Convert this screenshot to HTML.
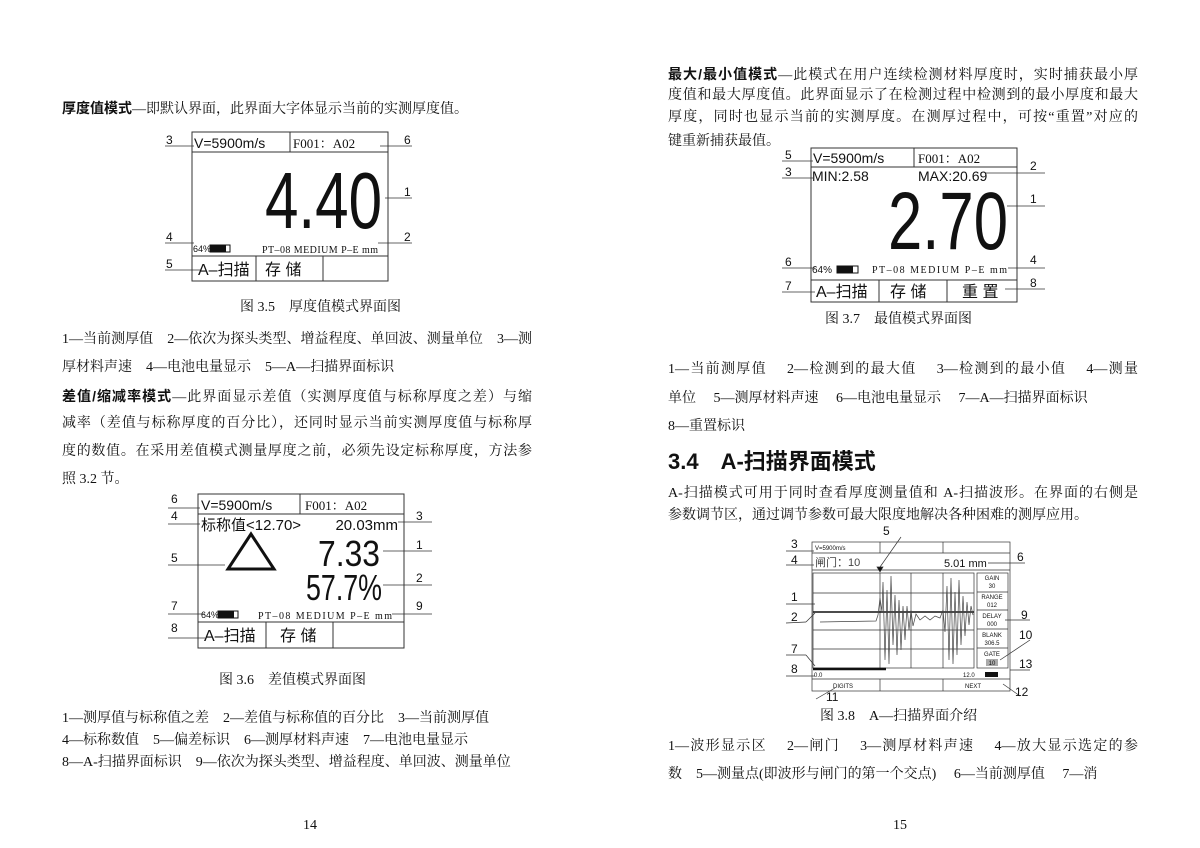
<!DOCTYPE html>
<html><head><meta charset="utf-8"><style>
body{margin:0;background:#fff;}
#p{position:relative;width:1200px;height:848px;overflow:hidden;background:#fff;font-family:"Liberation Serif","Noto Serif CJK SC",serif;font-size:14px;color:#111;}
.l{position:absolute;white-space:nowrap;line-height:16px;margin-top:2px;}
.j{width:470px;text-align:justify;text-align-last:justify;}
.r{left:668px}.lf{left:62px}
b{font-family:"Liberation Sans","Noto Sans CJK SC",sans-serif;font-weight:bold;}
svg{position:absolute;left:0;top:0}
</style></head><body><div id="p">
<div class="l lf" style="top:98px"><b>厚度值模式</b>—即默认界面，此界面大字体显示当前的实测厚度值。</div>
<div class="l" style="top:298px;left:240px">图 3.5　厚度值模式界面图</div>
<div class="l lf j" style="top:330px">1—当前测厚值　2—依次为探头类型、增益程度、单回波、测量单位　3—测</div>
<div class="l lf" style="top:358px">厚材料声速　4—电池电量显示　5—A—扫描界面标识</div>
<div class="l lf j" style="top:386px"><b>差值/缩减率模式</b>—此界面显示差值（实测厚度值与标称厚度之差）与缩</div>
<div class="l lf j" style="top:414px">减率（差值与标称厚度的百分比），还同时显示当前实测厚度值与标称厚</div>
<div class="l lf j" style="top:442px">度的数值。在采用差值模式测量厚度之前，必须先设定标称厚度，方法参</div>
<div class="l lf" style="top:470px">照 3.2 节。</div>
<div class="l" style="top:671px;left:219px">图 3.6　差值模式界面图</div>
<div class="l lf" style="top:709px">1—测厚值与标称值之差　2—差值与标称值的百分比　3—当前测厚值</div>
<div class="l lf" style="top:731px">4—标称数值　5—偏差标识　6—测厚材料声速　7—电池电量显示</div>
<div class="l lf" style="top:753px">8—A-扫描界面标识　9—依次为探头类型、增益程度、单回波、测量单位</div>
<div class="l" style="top:816px;left:303px">14</div>
<div class="l" style="top:816px;left:893px">15</div>

<div class="l r j" style="top:64px"><b>最大/最小值模式</b>—此模式在用户连续检测材料厚度时，实时捕获最小厚</div>
<div class="l r j" style="top:86px">度值和最大厚度值。此界面显示了在检测过程中检测到的最小厚度和最大</div>
<div class="l r j" style="top:108px">厚度，同时也显示当前的实测厚度。在测厚过程中，可按“重置”对应的</div>
<div class="l r" style="top:132px">键重新捕获最值。</div>
<div class="l" style="top:310px;left:825px">图 3.7　最值模式界面图</div>
<div class="l r j" style="top:360px">1—当前测厚值　 2—检测到的最大值　 3—检测到的最小值　 4—测量</div>
<div class="l r" style="top:389px">单位　 5—测厚材料声速　 6—电池电量显示　 7—A—扫描界面标识</div>
<div class="l r" style="top:417px">8—重置标识</div>
<div class="l r" style="top:447px;font-size:22px;line-height:26px"><b>3.4　A-扫描界面模式</b></div>
<div class="l r j" style="top:484px">A-扫描模式可用于同时查看厚度测量值和 A-扫描波形。在界面的右侧是</div>
<div class="l r" style="top:506px">参数调节区，通过调节参数可最大限度地解决各种困难的测厚应用。</div>
<div class="l" style="top:707px;left:820px">图 3.8　A—扫描界面介绍</div>
<div class="l r j" style="top:737px">1—波形显示区　 2—闸门　 3—测厚材料声速　 4—放大显示选定的参</div>
<div class="l r" style="top:765px">数　5—测量点(即波形与闸门的第一个交点)　 6—当前测厚值　 7—消</div>

<svg width="1200" height="848" viewBox="0 0 1200 848" font-family="Liberation Sans, Noto Sans CJK SC, sans-serif" fill="none" stroke="#333" stroke-width="1">
<g>
<rect x="192" y="132" width="196" height="149"/>
<line x1="192" y1="152" x2="388" y2="152"/><line x1="290" y1="132" x2="290" y2="152"/>
<line x1="192" y1="256" x2="388" y2="256"/><line x1="256" y1="256" x2="256" y2="281"/><line x1="323" y1="256" x2="323" y2="281"/>
<g stroke-width="0.8">
<line x1="165" y1="146" x2="194" y2="146"/><line x1="380" y1="146" x2="412" y2="146"/>
<line x1="385" y1="198" x2="412" y2="198"/><line x1="165" y1="243" x2="194" y2="243"/>
<line x1="378" y1="243" x2="412" y2="243"/><line x1="165" y1="270" x2="200" y2="270"/>
</g>
<g fill="#111" stroke="none" font-size="12">
<text x="166" y="144">3</text><text x="404" y="144">6</text><text x="404" y="196">1</text>
<text x="166" y="241">4</text><text x="404" y="241">2</text><text x="166" y="268">5</text>
<text x="194" y="148" font-size="14">V=5900m/s</text>
<text x="293" y="148" font-size="13" font-family="Liberation Serif, Noto Serif CJK SC, serif">F001：A02</text>
<text x="382" y="228" font-size="80" text-anchor="end" textLength="117" lengthAdjust="spacingAndGlyphs">4.40</text>
<text x="193" y="252" font-size="9">64%</text>
<rect x="210" y="245" width="16" height="7" fill="#111"/><rect x="210" y="245" width="20" height="7" fill="none" stroke="#111"/>
<text x="262" y="253" font-size="10" font-family="Liberation Serif, serif" textLength="116">PT–08  MEDIUM  P–E  mm</text>
<text x="198" y="275" font-size="16">A–扫描</text><text x="265" y="275" font-size="16">存 储</text>
</g></g>
<g>
<rect x="198" y="494" width="206" height="154"/>
<line x1="198" y1="514" x2="404" y2="514"/><line x1="300" y1="494" x2="300" y2="514"/>
<line x1="198" y1="622" x2="404" y2="622"/><line x1="266" y1="622" x2="266" y2="648"/><line x1="333" y1="622" x2="333" y2="648"/>
<g stroke-width="0.8">
<line x1="168" y1="508" x2="200" y2="508"/><line x1="168" y1="524" x2="200" y2="524"/>
<line x1="168" y1="565" x2="225" y2="565"/><line x1="168" y1="614" x2="205" y2="614"/>
<line x1="168" y1="638" x2="205" y2="638"/><line x1="398" y1="522" x2="432" y2="522"/>
<line x1="383" y1="551" x2="432" y2="551"/><line x1="383" y1="585" x2="432" y2="585"/>
<line x1="392" y1="614" x2="432" y2="614"/>
</g>
<polygon points="251,534 228,569 274,569" stroke="#111" stroke-width="3"/>
<g fill="#111" stroke="none" font-size="12">
<text x="171" y="503">6</text><text x="171" y="520">4</text><text x="171" y="562">5</text>
<text x="171" y="610">7</text><text x="171" y="632">8</text>
<text x="416" y="520">3</text><text x="416" y="549">1</text><text x="416" y="582">2</text><text x="416" y="610">9</text>
<text x="201" y="510" font-size="14">V=5900m/s</text>
<text x="305" y="510" font-size="13" font-family="Liberation Serif, Noto Serif CJK SC, serif">F001：A02</text>
<text x="201" y="530" font-size="15">标称值&lt;12.70&gt;</text>
<text x="398" y="530" font-size="15" text-anchor="end">20.03mm</text>
<text x="380" y="566" font-size="36" text-anchor="end" textLength="62" lengthAdjust="spacingAndGlyphs">7.33</text>
<text x="382" y="600" font-size="36" text-anchor="end" textLength="76" lengthAdjust="spacingAndGlyphs">57.7%</text>
<text x="201" y="618" font-size="9">64%</text>
<rect x="218" y="611" width="16" height="7" fill="#111"/><rect x="218" y="611" width="20" height="7" fill="none" stroke="#111"/>
<text x="258" y="619" font-size="10" font-family="Liberation Serif, serif" textLength="134">PT–08  MEDIUM  P–E  mm</text>
<text x="204" y="641" font-size="16">A–扫描</text><text x="280" y="641" font-size="16">存 储</text>
</g></g>
<g>
<rect x="811" y="148" width="206" height="154"/>
<line x1="811" y1="167" x2="1017" y2="167"/><line x1="914" y1="148" x2="914" y2="167"/>
<line x1="811" y1="280" x2="1017" y2="280"/><line x1="879" y1="280" x2="879" y2="302"/><line x1="947" y1="280" x2="947" y2="302"/>
<g stroke-width="0.8">
<line x1="782" y1="161" x2="813" y2="161"/><line x1="782" y1="178" x2="813" y2="178"/>
<line x1="985" y1="173" x2="1045" y2="173"/><line x1="1007" y1="206" x2="1045" y2="206"/>
<line x1="782" y1="268" x2="815" y2="268"/><line x1="1008" y1="268" x2="1045" y2="268"/>
<line x1="782" y1="292" x2="815" y2="292"/><line x1="1005" y1="289" x2="1045" y2="289"/>
</g>
<g fill="#111" stroke="none" font-size="12">
<text x="785" y="159">5</text><text x="785" y="176">3</text><text x="1030" y="170">2</text><text x="1030" y="203">1</text>
<text x="785" y="266">6</text><text x="1030" y="264">4</text><text x="785" y="290">7</text><text x="1030" y="287">8</text>
<text x="813" y="163" font-size="14">V=5900m/s</text>
<text x="918" y="163" font-size="13" font-family="Liberation Serif, Noto Serif CJK SC, serif">F001：A02</text>
<text x="812" y="181" font-size="14">MIN:2.58</text><text x="918" y="181" font-size="14">MAX:20.69</text>
<text x="1008" y="249" font-size="82" text-anchor="end" textLength="120" lengthAdjust="spacingAndGlyphs">2.70</text>
<text x="812" y="273" font-size="10">64%</text>
<rect x="837" y="266" width="16" height="7" fill="#111"/><rect x="837" y="266" width="21" height="7" fill="none" stroke="#111"/>
<text x="872" y="273" font-size="10" font-family="Liberation Serif, serif" textLength="135">PT–08  MEDIUM  P–E  mm</text>
<text x="816" y="297" font-size="16">A–扫描</text><text x="890" y="297" font-size="16">存 储</text><text x="962" y="297" font-size="16">重 置</text>
</g></g>
<g stroke-width="0.7">
<rect x="812" y="542" width="198" height="149"/>
<line x1="812" y1="553" x2="1010" y2="553"/><line x1="812" y1="570" x2="1010" y2="570"/>
<line x1="880" y1="542" x2="880" y2="553"/><line x1="943" y1="542" x2="943" y2="553"/>
<rect x="813" y="573" width="161" height="95"/>
<line x1="880" y1="573" x2="880" y2="668"/><line x1="911" y1="573" x2="911" y2="668"/><line x1="943" y1="573" x2="943" y2="668"/>
<line x1="813" y1="593" x2="974" y2="593"/><line x1="813" y1="630" x2="974" y2="630"/><line x1="813" y1="649" x2="974" y2="649"/>
<line x1="813" y1="612" x2="974" y2="612" stroke="#111" stroke-width="1.5"/>
<rect x="977" y="573" width="31" height="95"/>
<line x1="977" y1="592" x2="1008" y2="592"/><line x1="977" y1="610" x2="1008" y2="610"/><line x1="977" y1="629" x2="1008" y2="629"/><line x1="977" y1="648" x2="1008" y2="648"/>
<line x1="812" y1="679" x2="1010" y2="679"/><line x1="880" y1="679" x2="880" y2="691"/><line x1="943" y1="679" x2="943" y2="691"/>
<line x1="813" y1="669" x2="886" y2="669" stroke="#111" stroke-width="2.5"/>
<polyline stroke="#444" points="820,622 876,621 878,615 880,598 882,612 883,582 885,660 887,590 889,664 891,576 893,645 895,595 897,655 899,600 901,650 903,606 905,640 907,606 909,630 911,610 913,626 916,614 920,620 925,616 930,620 935,616 940,618 943,610 945,632 947,586 949,660 951,578 953,664 955,592 957,655 959,580 961,645 963,596 965,636 967,602 969,625 971,606 973,615"/>
<polygon points="877,567 883,567 880,572" fill="#111"/>
<line x1="786" y1="551" x2="814" y2="551"/><line x1="786" y1="565" x2="814" y2="565"/>
<line x1="880" y1="567" x2="901" y2="537"/><line x1="988" y1="563" x2="1025" y2="563"/>
<line x1="786" y1="604" x2="815" y2="604"/><line x1="806" y1="622" x2="815" y2="613"/><line x1="786" y1="623" x2="806" y2="622"/>
<line x1="1005" y1="620" x2="1030" y2="620"/><line x1="1000" y1="660" x2="1030" y2="640"/><line x1="1010" y1="670" x2="1030" y2="670"/>
<line x1="786" y1="655" x2="806" y2="655"/><line x1="806" y1="655" x2="815" y2="666"/><line x1="786" y1="676" x2="815" y2="676"/>
<line x1="816" y1="699" x2="835" y2="688"/><line x1="1003" y1="684" x2="1020" y2="696"/>
<g fill="#111" stroke="none" font-size="12">
<text x="791" y="548">3</text><text x="791" y="564">4</text><text x="883" y="535">5</text><text x="1017" y="561">6</text>
<text x="791" y="601">1</text><text x="791" y="621">2</text><text x="1021" y="619">9</text><text x="1019" y="639">10</text>
<text x="791" y="653">7</text><text x="791" y="673">8</text><text x="1019" y="668">13</text>
<text x="826" y="701">11</text><text x="1015" y="696">12</text>
<text x="815" y="550" font-size="6">V=5900m/s</text>
<text x="815" y="566" font-size="11" fill="#444">闸门：10</text><text x="944" y="567" font-size="11">5.01 mm</text>
<g font-size="6" text-anchor="middle"><text x="992" y="580">GAIN</text><text x="992" y="588">30</text><text x="992" y="599">RANGE</text><text x="992" y="607">012</text>
<text x="992" y="618">DELAY</text><text x="992" y="626">000</text><text x="992" y="637">BLANK</text><text x="992" y="645">306.5</text><text x="992" y="656">GATE</text>
<rect x="986" y="659" width="12" height="7" fill="#aaa"/><text x="992" y="665">10</text></g>
<text x="814" y="677" font-size="6">0.0</text><text x="963" y="677" font-size="6">12.0</text>
<rect x="985" y="672" width="13" height="5"/>
<text x="833" y="688" font-size="6">DIGITS</text><text x="965" y="688" font-size="6">NEXT</text>
</g></g>
</svg>
</div></body></html>
